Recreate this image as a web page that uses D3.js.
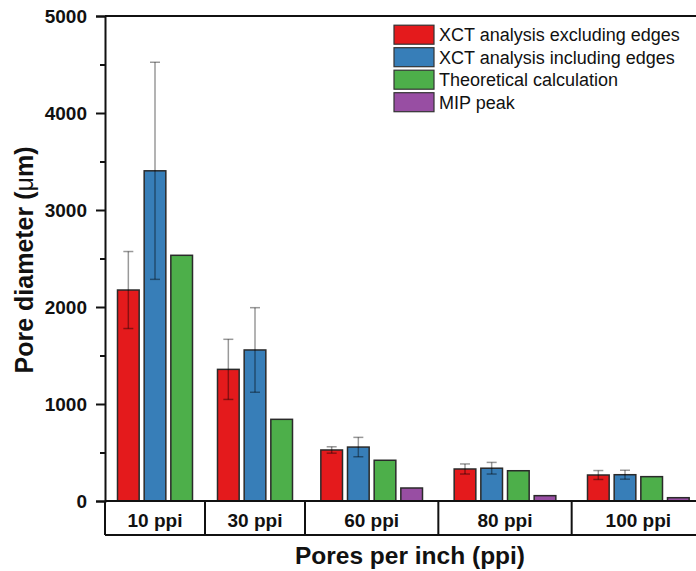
<!DOCTYPE html>
<html>
<head>
<meta charset="utf-8">
<script src="https://cdn.jsdelivr.net/npm/d3@7"></script>
<style>
  html, body { margin: 0; padding: 0; background: #fff; }
  svg { display: block; font-family: "Liberation Sans", Arial, sans-serif; }
</style>
</head>
<body>
<svg id="chart" width="696" height="571"></svg>
<script>
// Pore size by foam grade
const categories = ["10 ppi", "30 ppi", "60 ppi", "80 ppi", "100 ppi"];
const seriesNames = ["XCT analysis excluding edges", "XCT analysis including edges", "Theoretical calculation", "MIP peak"];
const seriesColors = ["#e41a1c", "#377eb8", "#4daf4a", "#984ea3"];

const xctExcluding    = [2175, 1357, 526, 330, 268];
const xctExcludingErr = [397, 310, 33, 52, 46];
const xctIncluding    = [3404, 1557, 556, 338, 271];
const xctIncludingErr = [1119, 436, 100, 60, 46];
const theoretical     = [2533, 842, 420, 312, 251];
const mipPeak         = [null, null, 134, 55, 34];

const yMajorTicks = [0, 1000, 2000, 3000, 4000, 5000];
const yMinorTicks = [500, 1500, 2500, 3500, 4500];

const values = [xctExcluding, xctIncluding, theoretical, mipPeak];
const errors = [xctExcludingErr, xctIncludingErr, null, null];

const svg = d3.select("#chart");

const plotLeft = 105, plotTop = 16, plotBottom = 501, boxBottom = 535;
const slotWidth = 100 / 3;      // axis width reserved per bar
const barStep = 80 / 3;         // pitch of bars inside a group

// groups: which series are present and how wide the group is
const groups = categories.map((c, i) => {
  const present = seriesNames.map((s, k) => k).filter(k => values[k][i] != null);
  return { name: c, index: i, series: present };
});
let acc = 0;
groups.forEach(g => { g.start = acc; acc += g.series.length; g.end = acc; });

const x = d3.scaleLinear().domain([0, acc]).range([plotLeft, plotLeft + acc * slotWidth]);
const y = d3.scaleLinear().domain([0, 5000]).range([plotBottom, plotTop]);

// bars
const barLayer = svg.append("g");
const errLayer = svg.append("g");
groups.forEach(g => {
  const cx = (x(g.start) + x(g.end)) / 2;
  const n = g.series.length;
  const inner = d3.scaleBand()
    .domain(g.series)
    .range([cx - n * barStep / 2, cx + n * barStep / 2])
    .paddingInner(0.1875)
    .paddingOuter(0.09375);
  g.series.forEach(k => {
    const v = values[k][g.index];
    barLayer.append("rect")
      .attr("x", inner(k))
      .attr("y", y(v))
      .attr("width", inner.bandwidth())
      .attr("height", y(0) - y(v))
      .attr("fill", seriesColors[k])
      .attr("stroke", "#2a2a2a")
      .attr("stroke-width", 1.5);
    if (errors[k]) {
      const e = errors[k][g.index];
      const bx = inner(k) + inner.bandwidth() / 2;
      const eg = errLayer.append("g")
        .attr("stroke", "rgba(0,0,0,0.4)")
        .attr("stroke-width", 1.5)
        .attr("fill", "none");
      eg.append("line").attr("x1", bx).attr("x2", bx).attr("y1", y(v + e)).attr("y2", y(v - e));
      eg.append("line").attr("x1", bx - 5).attr("x2", bx + 5).attr("y1", y(v + e)).attr("y2", y(v + e));
      eg.append("line").attr("x1", bx - 5).attr("x2", bx + 5).attr("y1", y(v - e)).attr("y2", y(v - e));
    }
  });
});

// frame: top edge, baseline and category box
const frame = svg.append("g").attr("stroke", "#111").attr("stroke-width", 2).attr("fill", "none");
frame.append("line").attr("x1", plotLeft).attr("x2", x(acc)).attr("y1", plotTop).attr("y2", plotTop);
frame.append("line").attr("x1", plotLeft).attr("x2", x(acc)).attr("y1", plotBottom).attr("y2", plotBottom);
frame.append("line").attr("x1", plotLeft).attr("x2", x(acc)).attr("y1", boxBottom).attr("y2", boxBottom);
groups.forEach(g => {
  frame.append("line").attr("x1", x(g.start)).attr("x2", x(g.start)).attr("y1", plotBottom).attr("y2", boxBottom);
});
frame.append("line").attr("x1", x(acc)).attr("x2", x(acc)).attr("y1", plotBottom).attr("y2", boxBottom);

// category labels
svg.append("g").selectAll("text").data(groups).join("text")
  .attr("x", g => (x(g.start) + x(g.end)) / 2)
  .attr("y", 527)
  .attr("text-anchor", "middle")
  .attr("font-weight", "bold")
  .attr("font-size", 19)
  .attr("fill", "#111")
  .text(g => g.name);

// y axis with major and minor ticks
const yAxis = svg.append("g").attr("transform", `translate(${plotLeft},0)`)
  .call(d3.axisLeft(y).tickValues(yMajorTicks).tickSize(9).tickPadding(9).tickFormat(d3.format("d")));
yAxis.selectAll("line").attr("stroke", "#111").attr("stroke-width", 2);
yAxis.select(".domain").attr("stroke", "#111").attr("stroke-width", 2);
yAxis.selectAll("text")
  .attr("font-family", "Liberation Sans, Arial, sans-serif")
  .attr("font-size", 19).attr("font-weight", "bold").attr("fill", "#111");

const yMinor = svg.append("g").attr("transform", `translate(${plotLeft},0)`)
  .call(d3.axisLeft(y).tickValues(yMinorTicks).tickSize(5).tickFormat(""));
yMinor.select(".domain").remove();
yMinor.selectAll("line").attr("stroke", "#111").attr("stroke-width", 2);

// axis titles
svg.append("text")
  .attr("x", 410).attr("y", 564)
  .attr("text-anchor", "middle")
  .attr("font-weight", "bold")
  .attr("font-size", 24.5)
  .attr("fill", "#111")
  .text("Pores per inch (ppi)");

const yTitle = svg.append("text")
  .attr("transform", "translate(33,260) rotate(-90)")
  .attr("text-anchor", "middle")
  .attr("font-weight", "bold")
  .attr("font-size", 25)
  .attr("fill", "#111");
yTitle.append("tspan").text("Pore diameter (");
yTitle.append("tspan").attr("font-weight", "normal").text("\u03bc");
yTitle.append("tspan").text("m)");

// legend
const legend = svg.append("g");
seriesNames.forEach((s, k) => {
  const cy = 34.7 + k * 22.5;
  legend.append("rect")
    .attr("x", 394).attr("y", cy - 9.5)
    .attr("width", 40).attr("height", 19)
    .attr("fill", seriesColors[k])
    .attr("stroke", "#333").attr("stroke-width", 1.2);
  legend.append("text")
    .attr("x", 439).attr("y", cy + 6.5)
    .attr("font-size", 18)
    .attr("fill", "#111")
    .text(s);
});
</script>
</body>
</html>
